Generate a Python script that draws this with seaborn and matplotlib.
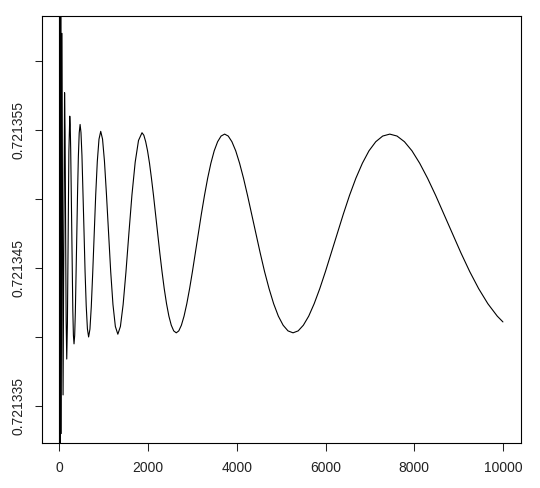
import matplotlib
matplotlib.use("Agg")
import numpy as np
import pandas as pd
import matplotlib.pyplot as plt
import seaborn as sns

# values (x = n, y = f(n))
# first few points: wild swings, clipped by the plot box
x_start = [1, 2, 4, 7, 10, 14, 20, 29, 41, 58, 69, 82, 98, 116, 127, 138, 151, 165,
           180, 196, 213]
y_start = [0.72129, 0.72140, 0.72130, 0.72139, 0.72131, 0.72138, 0.72132, 0.72137,
           0.7213330, 0.7213620, 0.7213489, 0.7213358, 0.7213468, 0.7213577,
           0.72135487, 0.72134805, 0.72134123, 0.7213384, 0.72134098, 0.7213472,
           0.72135342]

# oscillations settling down
x_mid = [233, 243, 254, 265, 277, 289, 302, 315, 329, 344, 359, 375, 392, 409, 427, 446,
         466, 486, 508, 530, 554, 578, 604, 631, 658, 688, 718, 750, 783, 818, 854, 892,
         931, 972, 1015, 1060, 1107, 1156, 1207, 1261, 1317, 1375, 1436, 1500, 1566,
         1635, 1708, 1783]
y_mid = [0.72135600, 0.72135537, 0.72135358, 0.72135091, 0.72134775, 0.72134459,
         0.72134192, 0.72134013, 0.72133950, 0.72134011, 0.72134183, 0.72134441,
         0.72134745, 0.72135049, 0.72135307, 0.72135479,
         0.72135540, 0.72135481, 0.72135314, 0.72135065, 0.72134770, 0.72134475,
         0.72134226, 0.72134059, 0.72134000, 0.72134057, 0.72134218, 0.72134460,
         0.72134745, 0.72135030, 0.72135272, 0.72135433,
         0.72135490, 0.72135434, 0.72135275, 0.72135036, 0.72134755, 0.72134474,
         0.72134235, 0.72134076, 0.72134020, 0.72134076, 0.72134234, 0.72134471,
         0.72134750, 0.72135029, 0.72135266, 0.72135424]

# the long slow waves
x_wave1 = [1862, 1903, 1945, 1987, 2031, 2075, 2121, 2167, 2215, 2263, 2313, 2363, 2415,
           2468, 2522, 2577, 2634, 2691, 2750, 2810, 2872, 2935, 2999, 3065, 3132, 3200,
           3271, 3342, 3415, 3490, 3567, 3645]
y_wave1 = [0.72135480, 0.72135462, 0.72135415, 0.72135349, 0.72135259, 0.72135150,
           0.72135026, 0.72134890, 0.72134750, 0.72134610, 0.72134474, 0.72134350,
           0.72134241, 0.72134151, 0.72134085, 0.72134044, 0.72134030, 0.72134044,
           0.72134085, 0.72134151, 0.72134241, 0.72134350, 0.72134474, 0.72134610,
           0.72134750, 0.72134890, 0.72135026, 0.72135150, 0.72135259, 0.72135349,
           0.72135415, 0.72135456]

x_wave2 = [3725, 3806, 3889, 3975, 4062, 4151, 4241, 4334, 4429, 4526, 4625, 4727, 4830,
           4936, 5044, 5154, 5267, 5383, 5500, 5621, 5744, 5870, 5998, 6130, 6264, 6401,
           6541, 6684, 6831, 6980, 7133, 7289]
y_wave2 = [0.72135470, 0.72135456, 0.72135415, 0.72135349, 0.72135259, 0.72135150,
           0.72135026, 0.72134890, 0.72134750, 0.72134610, 0.72134474, 0.72134350,
           0.72134241, 0.72134151, 0.72134085, 0.72134044, 0.72134030, 0.72134044,
           0.72134085, 0.72134151, 0.72134241, 0.72134350, 0.72134474, 0.72134610,
           0.72134750, 0.72134890, 0.72135026, 0.72135150, 0.72135259, 0.72135349,
           0.72135415, 0.72135456]

x_wave3 = [7449, 7612, 7779, 7949, 8123, 8301, 8483, 8669, 8858, 9052, 9251, 9453, 9660,
           9872, 10000]
y_wave3 = [0.72135470, 0.72135456, 0.72135415, 0.72135349, 0.72135259, 0.72135150,
           0.72135026, 0.72134890, 0.72134750, 0.72134610, 0.72134474, 0.72134350,
           0.72134241, 0.72134151, 0.72134109]

x_ticks = [0, 2000, 4000, 6000, 8000, 10000]
y_ticks = [0.721335, 0.72134, 0.721345, 0.72135, 0.721355, 0.72136]
y_ticklabels = ["0.721335", "", "0.721345", "", "0.721355", ""]

df = pd.DataFrame({
    "n": x_start + x_mid + x_wave1 + x_wave2 + x_wave3,
    "f": y_start + y_mid + y_wave1 + y_wave2 + y_wave3,
})

sns.set_style("white")
plt.rcParams["font.family"] = ["Liberation Sans", "DejaVu Sans"]

fig = plt.figure(figsize=(5.4, 4.88), dpi=100)
ax = fig.add_axes([0.0772, 0.0912, 0.8870, 0.8766])

sns.lineplot(data=df, x="n", y="f", ax=ax, color="black", linewidth=0.8,
             sort=False, estimator=None)

ax.set_xlim(-400, 10400)
ax.set_ylim(0.72133228, 0.72136328)
ax.set_xticks(x_ticks)
ax.set_xticklabels([str(t) for t in x_ticks])
ax.set_yticks(y_ticks)
ax.set_yticklabels(y_ticklabels, rotation=90, va="center")
ax.set_xlabel("")
ax.set_ylabel("")

ax.tick_params(axis="both", direction="out", length=5.4, width=0.75,
               colors="#222222", labelsize=10, bottom=True, left=True)
ax.tick_params(axis="x", pad=7.5)
ax.tick_params(axis="y", pad=6)
for s in ax.spines.values():
    s.set_color("black")
    s.set_linewidth(0.8)

fig.savefig("out.png", dpi=100)
